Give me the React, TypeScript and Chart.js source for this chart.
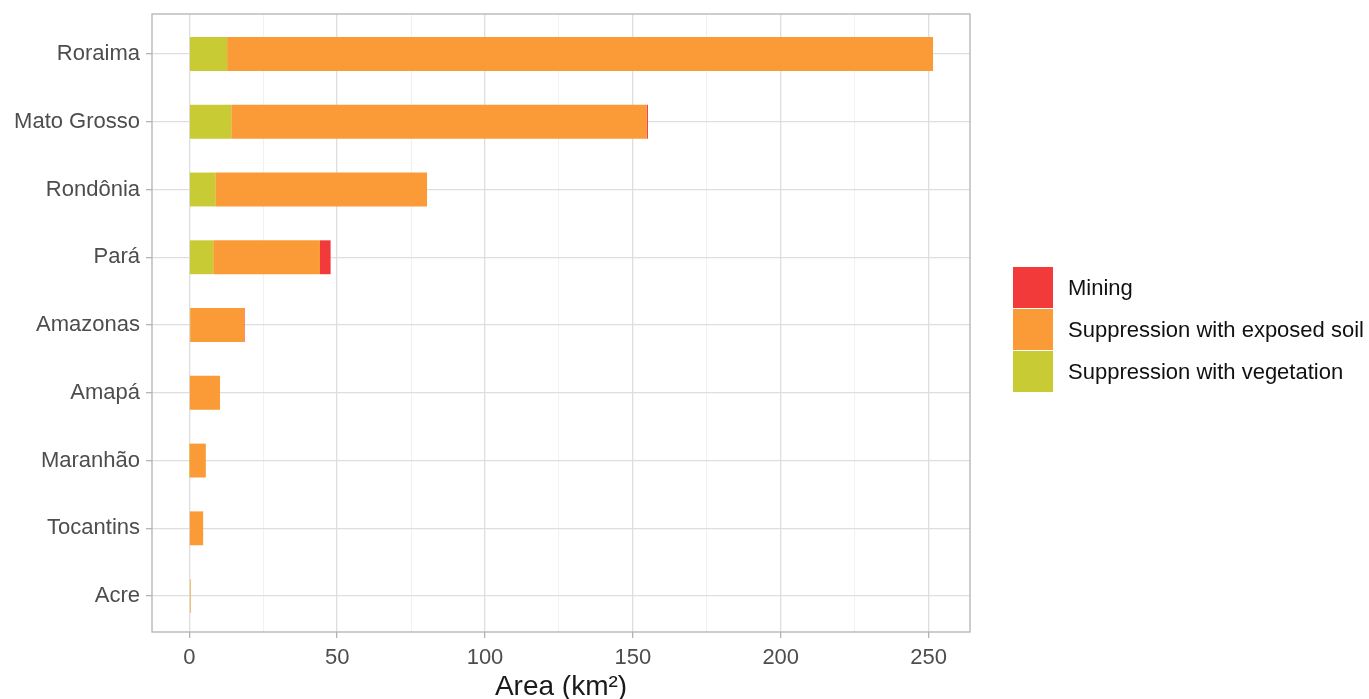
import React, { useEffect, useRef } from 'react';
import { Chart, registerables } from 'chart.js';

Chart.register(...registerables);

const states = ['Roraima', 'Mato Grosso', 'Rondônia', 'Pará', 'Amazonas', 'Amapá', 'Maranhão', 'Tocantins', 'Acre'];
const vegetation = [12.8, 14.2, 8.8, 8.1, 0.3, 0.2, 0.1, 0.2, 0.3];
const exposedSoil = [238.7, 140.5, 71.6, 36.1, 18.3, 10.2, 5.5, 4.5, 0.2];
const mining = [0, 0.4, 0, 3.6, 0.2, 0, 0, 0, 0];
const xGridValues = [0, 25, 50, 75, 100, 125, 150, 175, 200, 225, 250];
const xLabelStep = 50;

const legendItems = [
  { label: 'Mining', color: '#F23A3A' },
  { label: 'Suppression with exposed soil', color: '#FA9B38' },
  { label: 'Suppression with vegetation', color: '#C9CB34' },
];

const FONT = "'Liberation Sans', Arial, Helvetica, sans-serif";

const panelBorder = {
  id: 'panelBorder',
  afterDraw(chart: any) {
    const { ctx, chartArea } = chart;
    ctx.save();
    ctx.strokeStyle = '#b3b3b3';
    ctx.lineWidth = 1.3;
    ctx.strokeRect(chartArea.left, chartArea.top, chartArea.right - chartArea.left, chartArea.bottom - chartArea.top);
    ctx.restore();
  },
};

export default function App() {
  const canvasRef = useRef<HTMLCanvasElement>(null);

  useEffect(() => {
    if (!canvasRef.current) return;
    const toXY = (arr: number[]) => arr.map((v, i) => ({ x: v, y: i }));
    const chart = new Chart(canvasRef.current, {
      type: 'bar',
      data: {
        datasets: [
          { label: 'Suppression with vegetation', data: toXY(vegetation), backgroundColor: '#C9CB34', borderWidth: 0 },
          { label: 'Suppression with exposed soil', data: toXY(exposedSoil), backgroundColor: '#FA9B38', borderWidth: 0 },
          { label: 'Mining', data: toXY(mining), backgroundColor: '#F23A3A', borderWidth: 0 },
        ],
      } as any,
      options: {
        indexAxis: 'y',
        animation: false,
        responsive: true,
        maintainAspectRatio: false,
        layout: { padding: { top: 14, right: 399, left: 0, bottom: 0 } },
        datasets: { bar: { barPercentage: 0.5, categoryPercentage: 1 } },
        plugins: { legend: { display: false }, tooltip: { enabled: false } },
        scales: {
          x: {
            type: 'linear',
            stacked: true,
            min: -12.6,
            max: 264,
            afterBuildTicks: (scale: any) => {
              scale.ticks = xGridValues.map((v) => ({ value: v }));
            },
            afterFit: (scale: any) => {
              scale.height = 67;
              scale.paddingLeft = 0;
              scale.paddingRight = 0;
            },
            ticks: {
              autoSkip: false,
              maxRotation: 0,
              padding: 7,
              color: '#4d4d4d',
              font: { family: FONT, size: 22 },
              callback: (v: any) => (Number(v) % xLabelStep === 0 ? String(v) : ''),
            },
            grid: {
              color: (ctx: any) => (ctx.tick && ctx.tick.value % xLabelStep === 0 ? '#dedede' : '#eeeeee'),
              lineWidth: (ctx: any) => (ctx.tick && ctx.tick.value % xLabelStep === 0 ? 1.3 : 0.8),
              tickColor: (ctx: any) => (ctx.tick && ctx.tick.value % xLabelStep === 0 ? '#b3b3b3' : 'rgba(0,0,0,0)'),
              tickLength: 6,
              drawTicks: true,
            },
            border: { display: false },
            title: {
              display: true,
              text: 'Area (km²)',
              color: '#1a1a1a',
              font: { family: FONT, size: 28 },
              padding: { top: 0, bottom: -5 },
            },
          },
          y: {
            type: 'linear',
            stacked: true,
            reverse: true,
            offset: false,
            min: -0.59,
            max: 8.53,
            afterBuildTicks: (scale: any) => {
              scale.ticks = states.map((_, i) => ({ value: i }));
            },
            afterFit: (scale: any) => {
              scale.width = 152;
              scale.paddingTop = 0;
              scale.paddingBottom = 0;
            },
            ticks: {
              autoSkip: false,
              padding: 6,
              color: '#4d4d4d',
              font: { family: FONT, size: 22 },
              callback: (v: any) => states[Number(v)] ?? '',
            },
            grid: {
              offset: false,
              color: '#dedede',
              lineWidth: 1.3,
              tickColor: '#b3b3b3',
              tickLength: 6,
            },
            border: { display: false },
          },
        },
      } as any,
      plugins: [panelBorder],
    });
    return () => chart.destroy();
  }, []);

  return (
    <div style={{ position: 'fixed', left: 0, top: 0, width: '100vw', height: '100vh', background: '#fff' }}>
      <canvas ref={canvasRef} />
      <div style={{ position: 'absolute', left: 1013, top: 267, fontFamily: FONT }}>
        {legendItems.map((it) => (
          <div key={it.label} style={{ display: 'flex', alignItems: 'center', height: 41, marginBottom: 1 }}>
            <div style={{ width: 40, height: 41, background: it.color }} />
            <span style={{ marginLeft: 15, fontSize: 22, color: '#111', whiteSpace: 'nowrap' }}>{it.label}</span>
          </div>
        ))}
      </div>
    </div>
  );
}
